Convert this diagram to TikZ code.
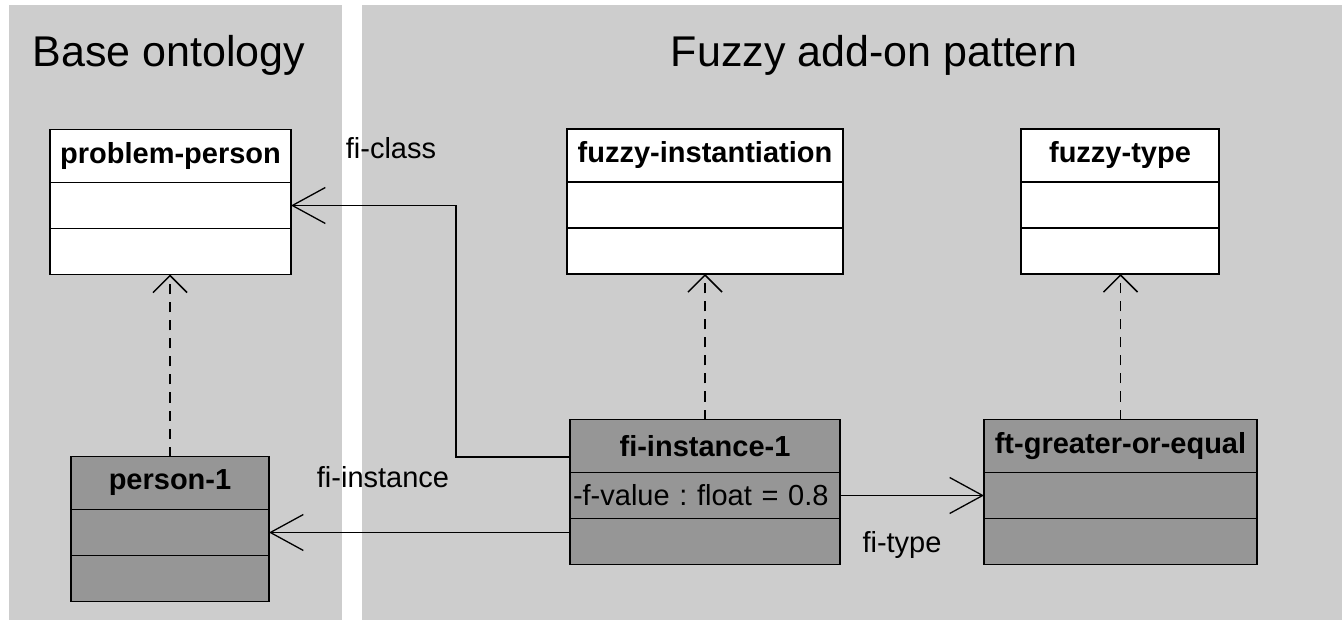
\documentclass[tikz,border=0pt]{standalone}
\usepackage{fontspec}
\setmainfont{Liberation Sans}
\usetikzlibrary{arrows.meta,positioning,calc}
\definecolor{panelgray}{RGB}{205,205,205}
\definecolor{objgray}{RGB}{150,150,150}

\tikzset{
  classhead/.style={draw, rectangle, line width=1.5pt, outer sep=0pt, inner sep=0pt,
    minimum height=53pt, font=\fontsize{29}{34}\selectfont\bfseries},
  classpart/.style={draw, rectangle, line width=1.5pt, outer sep=0pt, inner sep=0pt,
    minimum height=46pt, font=\fontsize{29}{34}\selectfont\frenchspacing},
  lbl/.style={font=\fontsize{29}{34}\selectfont, anchor=base},
  paneltitle/.style={font=\fontsize{43}{50}\selectfont, anchor=base},
  assoc/.style={line width=1.3pt, -{Straight Barb[length=33pt, width=36pt]}},
  realize/.style={line width=1.5pt, dash pattern=on 10pt off 8pt, -{Straight Barb[length=17pt, width=34pt]}}
}

\begin{document}
\begin{tikzpicture}[x=1pt, y=-1pt]
        \useasboundingbox (0,0) rectangle (1342,620);

        % Panels
        \fill[panelgray] (9,5) rectangle (342,620);
        \fill[panelgray] (362,5) rectangle (1342,620);
        \node[paneltitle] (tbase) at (169,67) {Base ontology};
        \node[paneltitle] (tfuzzy) at (874,67) {Fuzzy add-on pattern};

        % Base ontology classes
        \node[classhead, fill=white, minimum width=241pt] (pp) at (170.5,156) {problem-person};
        \node[classpart, fill=white, minimum width=241pt, below=0pt of pp] (pp-a) {};
        \node[classpart, fill=white, minimum width=241pt, below=0pt of pp-a] (pp-o) {};

        \node[classhead, fill=objgray, minimum width=198pt] (p1) at (170,483) {person-1};
        \node[classpart, fill=objgray, minimum width=198pt, below=0pt of p1] (p1-a) {};
        \node[classpart, fill=objgray, minimum width=198pt, below=0pt of p1-a] (p1-o) {};

        % Fuzzy add-on classes
        \node[classhead, fill=white, minimum width=276pt] (fz) at (705,155.5) {fuzzy-instantiation};
        \node[classpart, fill=white, minimum width=276pt, below=0pt of fz] (fz-a) {};
        \node[classpart, fill=white, minimum width=276pt, below=0pt of fz-a] (fz-o) {};

        \node[classhead, fill=white, minimum width=198pt] (ftype) at (1120,155.5) {fuzzy-type};
        \node[classpart, fill=white, minimum width=198pt, below=0pt of ftype] (ftype-a) {};
        \node[classpart, fill=white, minimum width=198pt, below=0pt of ftype-a] (ftype-o) {};

        \node[classhead, fill=objgray, minimum width=270pt] (fi) at (705,446) {fi-instance-1};
        \node[classpart, fill=objgray, text width=264pt, inner xsep=3pt, align=left, below=0pt of fi] (fi-a) {-f-value : float = 0.8};
        \node[classpart, fill=objgray, minimum width=270pt, below=0pt of fi-a] (fi-o) {};

        \node[classhead, fill=objgray, minimum width=273pt] (ge) at (1120.5,446) {ft-greater-or-equal};
        \node[classpart, fill=objgray, minimum width=273pt, below=0pt of ge] (ge-a) {};
        \node[classpart, fill=objgray, minimum width=273pt, below=0pt of ge-a] (ge-o) {};

        % Instance-of links
        \draw[realize] (p1.north) -- (p1.north |- pp-o.south);
        \draw[realize] (fi.north) -- (fi.north |- fz-o.south);
        \draw[realize] (ge.north) -- (ge.north |- ftype-o.south);

        % Associations
        \draw[assoc] ([yshift=-11pt]fi.west) -- ++(-114,0) |- (pp-a.east);
        \draw[assoc] (fi-o.west |- p1-a.east) -- (p1-a.east);
        \draw[assoc] (fi-a.east) -- (ge-a.west);

        \node[lbl] (lclass) at (391,159) {fi-class};
        \node[lbl] (linst) at (383,487) {fi-instance};
        \node[lbl] (ltype) at (902,552) {fi-type};
    \end{tikzpicture}
\end{document}
